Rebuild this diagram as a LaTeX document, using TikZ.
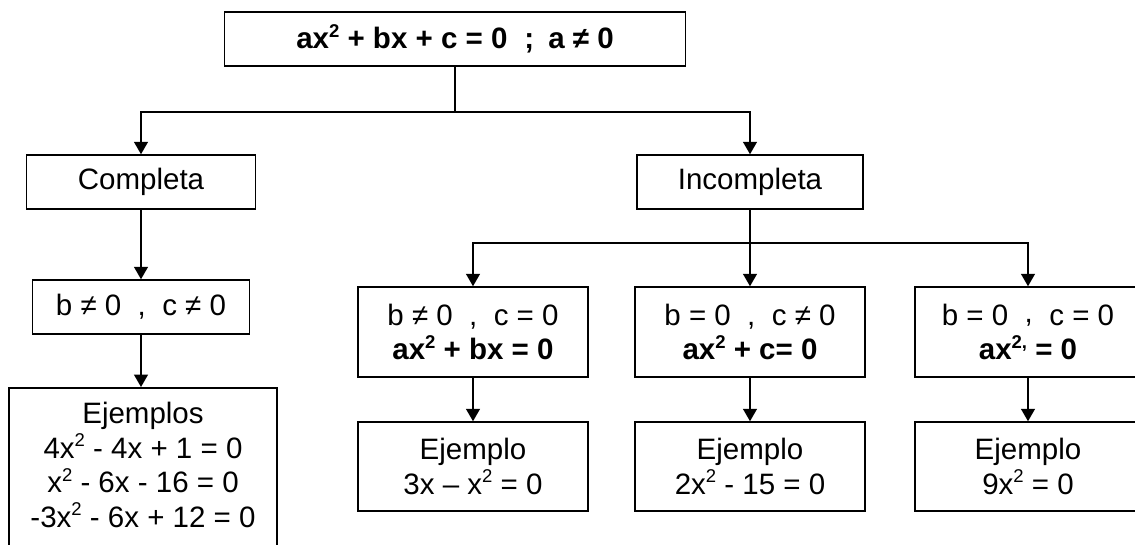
\documentclass[tikz,border=0pt]{standalone}
\usepackage{fontspec}
\setmainfont{Liberation Sans}
\usetikzlibrary{arrows.meta}
\newcommand\sqq{\raisebox{11.5pt}{\fontsize{18.5}{19}\selectfont 2}}
\newcommand\supcomma{\raisebox{11.5pt}{\fontsize{18.5}{19}\selectfont ,}}
\begin{document}
\begin{tikzpicture}[x=1pt,y=-1pt,
  txt/.style={font=\fontsize{29.5}{34.5}\selectfont},
  box/.style={draw, line width=1.5pt, inner sep=0pt, txt, align=center},
  conn/.style={line width=1.5pt},
  arr/.style={conn, -{Triangle[length=12.5pt,width=14pt]}}]
\useasboundingbox (0,0) rectangle (1135,544);
\clip (0,0) rectangle (1135,544);
% top
\node[box, minimum width=461pt, minimum height=54pt, font=\fontsize{29.5}{34.5}\selectfont\bfseries] (top) at (455,39)
  {ax\sqq{} + bx + c = 0\hspace{17pt};\hspace{14pt}a ≠ 0};
% level 1
\node[box, minimum width=229pt, minimum height=54pt] (comp) at (141,182) {Completa};
\node[box, minimum width=226pt, minimum height=54pt] (inc) at (750,182) {Incompleta};
% completa branch
\node[box, minimum width=217pt, minimum height=54pt] (bc) at (141,307) {b ≠ 0\ \ ,\ \ c ≠ 0};
\node[box, minimum width=268pt, minimum height=175pt, anchor=north] (ej) at (143,387) {};
\node[txt, align=center, anchor=north, inner sep=0pt] (ejt) at (143,402)
  {Ejemplos\\4x\sqq{} - 4x + 1 = 0\\x\sqq{} - 6x - 16 = 0\\-3x\sqq{} - 6x + 12 = 0};
% incompleta branch
\node[box, minimum width=230pt, minimum height=90pt] (c1) at (473,332) {b ≠ 0\ \ ,\ \ c = 0\\\textbf{ax\sqq{} + bx = 0}};
\node[box, minimum width=230pt, minimum height=90pt] (c2) at (750,332) {b = 0\ \ ,\ \ c ≠ 0\\\textbf{ax\sqq{} + c= 0}};
\node[box, minimum width=226pt, minimum height=90pt] (c3) at (1028,332) {b = 0\ \ \raisebox{3pt}{,}\ \ c = 0\\\textbf{ax\sqq\supcomma{} = 0}};
\node[box, minimum width=230pt, minimum height=89pt] (e1) at (473,466.5) {Ejemplo\\3x – x\sqq{} = 0};
\node[box, minimum width=230pt, minimum height=89pt] (e2) at (750,466.5) {Ejemplo\\2x\sqq{} - 15 = 0};
\node[box, minimum width=226pt, minimum height=89pt] (e3) at (1028,466.5) {Ejemplo\\9x\sqq{} = 0};
% connectors
\coordinate (j1) at (455,112);
\coordinate (j2) at (750,243);
\draw[conn] (top.south) -- (j1);
\draw[arr] (j1) -| (comp.north);
\draw[arr] (j1) -| (inc.north);
\draw[arr] (comp.south) -- (bc.north);
\draw[arr] (bc.south) -- (bc.south |- ej.north);
\draw[conn] (inc.south) -- (j2);
\draw[arr] (j2) -| (c1.north);
\draw[arr] (j2) -- (c2.north);
\draw[arr] (j2) -| (c3.north);
\draw[arr] (c1.south) -- (e1.north);
\draw[arr] (c2.south) -- (e2.north);
\draw[arr] (c3.south) -- (e3.north);
\end{tikzpicture}
\end{document}
